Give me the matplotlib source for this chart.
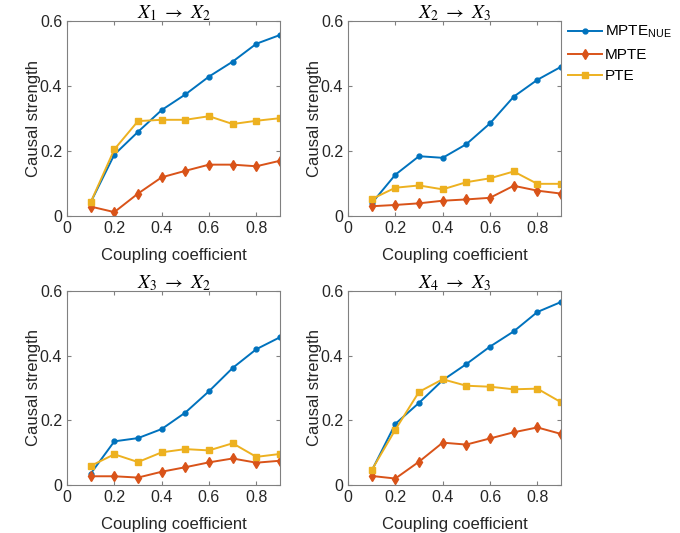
import matplotlib
matplotlib.use("Agg")
import matplotlib.pyplot as plt

plt.rcParams['font.family'] = ['Liberation Sans', 'DejaVu Sans']
plt.rcParams['mathtext.fontset'] = 'custom'
plt.rcParams['mathtext.rm'] = 'STIXGeneral'
plt.rcParams['mathtext.it'] = 'STIXGeneral:italic'
plt.rcParams['mathtext.sf'] = 'Liberation Sans'
plt.rcParams['mathtext.fallback'] = 'stix'

coupling = [0.1, 0.2, 0.3, 0.4, 0.5, 0.6, 0.7, 0.8, 0.9]
titles = [r'$X_1\ \rightarrow\ X_2$', r'$X_2\ \rightarrow\ X_3$',
          r'$X_3\ \rightarrow\ X_2$', r'$X_4\ \rightarrow\ X_3$']

mpte_nue_12 = [0.042, 0.189, 0.259, 0.326, 0.374, 0.429, 0.475, 0.530, 0.557]
mpte_12 = [0.029, 0.012, 0.069, 0.119, 0.139, 0.158, 0.158, 0.153, 0.170]
pte_12 = [0.042, 0.205, 0.292, 0.296, 0.296, 0.307, 0.283, 0.293, 0.301]

mpte_nue_23 = [0.039, 0.127, 0.184, 0.179, 0.221, 0.285, 0.367, 0.419, 0.459]
mpte_23 = [0.030, 0.034, 0.039, 0.047, 0.051, 0.056, 0.093, 0.078, 0.069]
pte_23 = [0.052, 0.087, 0.094, 0.082, 0.104, 0.116, 0.137, 0.099, 0.099]

mpte_nue_32 = [0.035, 0.135, 0.145, 0.173, 0.224, 0.290, 0.362, 0.420, 0.457]
mpte_32 = [0.027, 0.027, 0.023, 0.041, 0.055, 0.070, 0.082, 0.069, 0.075]
pte_32 = [0.059, 0.095, 0.071, 0.101, 0.111, 0.107, 0.129, 0.087, 0.096]

mpte_nue_43 = [0.044, 0.189, 0.254, 0.324, 0.374, 0.428, 0.475, 0.535, 0.566]
mpte_43 = [0.028, 0.020, 0.072, 0.131, 0.125, 0.144, 0.163, 0.178, 0.158]
pte_43 = [0.046, 0.171, 0.288, 0.327, 0.307, 0.304, 0.296, 0.298, 0.256]

xticks = [0, 0.2, 0.4, 0.6, 0.8]
xticklabels = ['0', '0.2', '0.4', '0.6', '0.8']
yticks = [0, 0.2, 0.4, 0.6]
yticklabels = ['0', '0.2', '0.4', '0.6']

series = [(mpte_nue_12, mpte_12, pte_12), (mpte_nue_23, mpte_23, pte_23),
          (mpte_nue_32, mpte_32, pte_32), (mpte_nue_43, mpte_43, pte_43)]

W, H = 680, 533
fig = plt.figure(figsize=(6.8, 5.33), dpi=100)
boxes = [(67, 21, 280, 216), (348, 21, 561, 216),
         (67, 291, 280, 485), (348, 291, 561, 485)]

blue = '#0072BD'
red = '#D95319'
yellow = '#EDB120'
txt = '#262626'
spine = '#808080'

axes = []
for (x0, y0, x1, y1), title, (nue, mp, pt) in zip(boxes, titles, series):
    ax = fig.add_axes([x0 / W, 1 - y1 / H, (x1 - x0) / W, (y1 - y0) / H])
    l1, = ax.plot(coupling, nue, color=blue, marker='.', markersize=7, lw=1.4,
                  label=r'MPTE$_{\mathsf{NUE}}$')
    l2, = ax.plot(coupling, mp, color=red, marker='d', markersize=5, lw=1.4,
                  markerfacecolor=red, label='MPTE')
    l3, = ax.plot(coupling, pt, color=yellow, marker='s', markersize=4, lw=1.4,
                  label='PTE')
    ax.set_xlim(0, 0.9)
    ax.set_ylim(0, 0.6)
    ax.set_xticks(xticks)
    ax.set_xticklabels(xticklabels)
    ax.set_yticks(yticks)
    ax.set_yticklabels(yticklabels)
    ax.tick_params(direction='in', top=True, right=True, labelsize=11.5,
                   colors=spine, labelcolor=txt, length=3, width=0.8)
    for s in ax.spines.values():
        s.set_color(spine)
        s.set_linewidth(0.8)
    ax.set_title(title, fontsize=14, color='black', pad=2)
    ax.set_xlabel('Coupling coefficient', fontsize=12, color=txt, labelpad=9)
    ax.set_ylabel('Causal strength', fontsize=12, color=txt, labelpad=-1)
    axes.append((ax, [l1, l2, l3]))

ax1, lines = axes[1]
leg = fig.legend(lines, [l.get_label() for l in lines],
                 loc='upper left', bbox_to_anchor=(562 / W, 1 - 18 / H),
                 frameon=False, fontsize=11, handlelength=2.2,
                 handletextpad=0.2, labelspacing=0.5, borderaxespad=0)

fig.savefig('out.png', dpi=100, facecolor='white')
